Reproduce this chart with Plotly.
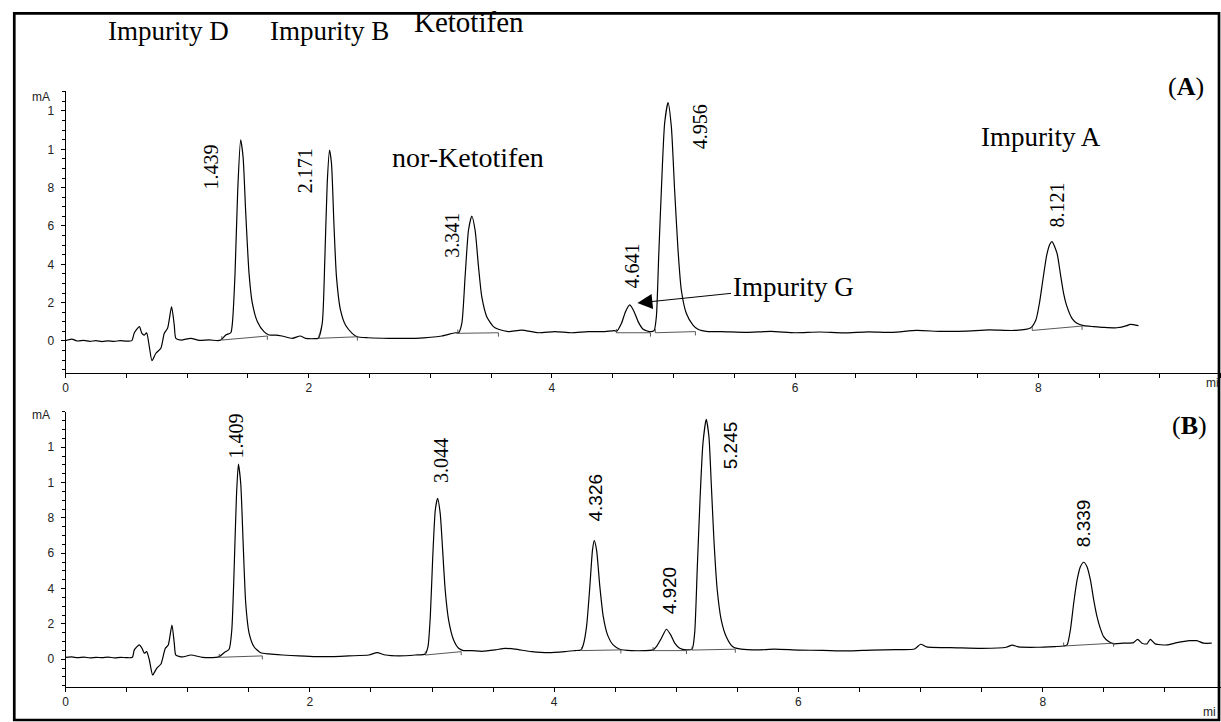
import plotly.graph_objects as go

# ---------------- data ----------------
tA = [0.00, 0.05, 0.10, 0.15, 0.20, 0.25, 0.30, 0.35, 0.40, 0.45, 0.50, 0.545, 0.566, 0.607, 0.628, 0.648, 0.667,
      0.689, 0.711, 0.743, 0.784, 0.812, 0.839, 0.872, 0.894, 0.907, 0.95, 1.03, 1.10, 1.18, 1.25, 1.277, 1.318,
      1.359, 1.372, 1.394, 1.416, 1.440, 1.460, 1.482, 1.509, 1.536, 1.578, 1.632, 1.673, 1.728, 1.78, 1.865, 1.93,
      1.974, 2.05, 2.078, 2.111, 2.133, 2.152, 2.171, 2.187, 2.207, 2.228, 2.261, 2.302, 2.357, 2.398, 2.49, 2.66,
      2.88, 3.095, 3.204, 3.232, 3.259, 3.286, 3.314, 3.341, 3.368, 3.396, 3.423, 3.464, 3.519, 3.560, 3.642, 3.75,
      3.888, 4.025, 4.16, 4.298, 4.435, 4.517, 4.531, 4.572, 4.605, 4.640, 4.676, 4.709, 4.750, 4.804, 4.840, 4.859,
      4.878, 4.900, 4.927, 4.955, 4.982, 5.009, 5.037, 5.064, 5.105, 5.160, 5.201, 5.283, 5.39, 5.6, 5.8, 6.0, 6.2,
      6.4, 6.6, 6.8, 7.0, 7.2, 7.4, 7.6, 7.8, 7.935, 7.98, 8.01, 8.04, 8.07, 8.095, 8.113, 8.154, 8.181, 8.208,
      8.236, 8.277, 8.318, 8.372, 8.455, 8.536, 8.646, 8.728, 8.755, 8.824]
yA = [0.02, 0.10, 0.00, 0.03, -0.02, 0.02, -0.03, 0.01, -0.02, 0.02, -0.01, 0.02, 0.43, 0.75, 0.40, 0.31, 0.42,
      -0.30, -1.03, -0.64, -0.38, 0.40, 0.66, 1.79, 0.83, 0.14, 0.05, 0.14, 0.03, 0.06, 0.02, 0.05, 0.31,
      0.43, 0.92, 3.53, 7.88, 10.49, 9.60, 6.66, 3.53, 1.97, 1.01, 0.49, 0.31, 0.31, 0.26, 0.14, 0.26,
      0.14, 0.12, 0.14, 0.92, 4.40, 8.23, 9.96, 9.27, 6.14, 3.36, 1.62, 0.83, 0.40, 0.22, 0.17, 0.14,
      0.14, 0.26, 0.43, 0.43, 0.92, 3.36, 5.79, 6.52, 5.79, 3.88, 2.31, 1.27, 0.75, 0.61, 0.49, 0.57,
      0.43, 0.49, 0.43, 0.49, 0.49, 0.54, 0.49, 0.92, 1.53, 1.88, 1.53, 1.01, 0.61, 0.49, 0.54, 1.27,
      4.40, 7.88, 11.36, 12.43, 11.18, 7.88, 4.75, 2.66, 1.45, 0.83, 0.61, 0.49, 0.49, 0.45, 0.50, 0.43, 0.47,
      0.42, 0.48, 0.45, 0.55, 0.50, 0.52, 0.58, 0.55, 0.68, 1.10, 2.00, 3.30, 4.50, 5.05, 5.18, 4.57, 3.53, 2.49,
      1.79, 1.18, 0.92, 0.80, 0.75, 0.71, 0.69, 0.80, 0.87, 0.80]

tB = [0.00, 0.05, 0.10, 0.15, 0.20, 0.25, 0.30, 0.35, 0.40, 0.45, 0.50, 0.547, 0.563, 0.604, 0.626, 0.645, 0.664,
      0.686, 0.713, 0.746, 0.781, 0.817, 0.841, 0.871, 0.890, 0.903, 0.958, 1.026, 1.121, 1.230, 1.258, 1.298,
      1.339, 1.361, 1.380, 1.399, 1.415, 1.434, 1.454, 1.475, 1.503, 1.543, 1.597, 1.666, 1.775, 1.911, 2.047,
      2.183, 2.319, 2.483, 2.550, 2.618, 2.728, 2.863, 2.945, 2.967, 2.986, 3.005, 3.027, 3.046, 3.067, 3.087,
      3.108, 3.136, 3.177, 3.218, 3.258, 3.326, 3.408, 3.517, 3.598, 3.680, 3.816, 3.953, 4.088, 4.170, 4.219,
      4.238, 4.265, 4.292, 4.314, 4.328, 4.347, 4.374, 4.402, 4.437, 4.483, 4.537, 4.633, 4.742, 4.810, 4.837,
      4.878, 4.919, 4.954, 4.987, 5.028, 5.082, 5.129, 5.150, 5.172, 5.194, 5.218, 5.245, 5.267, 5.286, 5.308,
      5.335, 5.368, 5.409, 5.463, 5.531, 5.668, 5.803, 6.0, 6.2, 6.4, 6.6, 6.8, 6.95, 7.00, 7.05, 7.3, 7.5, 7.7,
      7.75, 7.8, 7.95, 8.10, 8.171, 8.199, 8.226, 8.253, 8.281, 8.308, 8.335, 8.362, 8.390, 8.417, 8.444, 8.471,
      8.498, 8.539, 8.580, 8.661, 8.743, 8.776, 8.812, 8.853, 8.880, 8.920, 9.016, 9.098, 9.206, 9.261, 9.315,
      9.383]
yB = [0.11, 0.13, 0.09, 0.12, 0.08, 0.11, 0.09, 0.12, 0.08, 0.11, 0.09, 0.11, 0.53, 0.81, 0.62, 0.34, 0.43,
      -0.04, -0.89, -0.51, -0.27, 0.62, 0.81, 1.94, 0.91, 0.24, 0.13, 0.24, 0.11, 0.11, 0.15, 0.37,
      0.57, 1.66, 5.05, 9.20, 11.04, 9.96, 6.56, 3.17, 1.47, 0.71, 0.37, 0.30, 0.24, 0.19, 0.15,
      0.15, 0.19, 0.24, 0.37, 0.24, 0.19, 0.24, 0.30, 0.71, 2.41, 5.62, 8.45, 9.11, 8.26, 6.19,
      3.92, 2.22, 1.09, 0.62, 0.49, 0.49, 0.45, 0.53, 0.62, 0.57, 0.43, 0.37, 0.43, 0.49, 0.53,
      0.81, 1.85, 4.11, 6.19, 6.71, 6.19, 4.11, 2.41, 1.38, 0.81, 0.57, 0.49, 0.49, 0.53, 0.71,
      1.19, 1.70, 1.38, 0.91, 0.62, 0.53, 0.57, 1.47, 5.24, 9.02, 12.22, 13.58, 12.60, 9.96, 6.75,
      3.92, 2.22, 1.28, 0.71, 0.57, 0.53, 0.57, 0.52, 0.50, 0.47, 0.52, 0.55, 0.58, 0.85, 0.70, 0.65, 0.62, 0.68,
      0.80, 0.70, 0.68, 0.72, 0.75, 0.81, 1.66, 3.17, 4.49, 5.24, 5.49, 5.24, 4.49, 3.36, 2.41, 1.75,
      1.28, 1.00, 0.87, 0.91, 0.94, 1.13, 0.91, 0.87, 1.13, 0.87, 0.81, 0.94, 1.05, 1.05, 0.91,
      0.91]

# integration baselines: (t_start, y_start, t_end, y_end)
baseA = [(1.285, 0.05, 1.66, 0.26), (2.086, 0.14, 2.40, 0.22), (3.226, 0.40, 3.56, 0.43),
         (4.53, 0.43, 4.81, 0.43), (4.85, 0.43, 5.18, 0.49), (7.95, 0.55, 8.36, 0.78)]
baseB = [(1.258, 0.11, 1.611, 0.19), (2.945, 0.24, 3.239, 0.43), (4.225, 0.49, 4.546, 0.53),
         (4.81, 0.49, 5.083, 0.49), (5.129, 0.52, 5.483, 0.57), (8.171, 0.75, 8.58, 0.91)]

# retention-time labels: (text, t, y)
rtA = [("1.439", 1.192, 9.08), ("2.171", 1.971, 8.87), ("3.341", 3.177, 5.53),
       ("4.641", 4.662, 3.91), ("4.956", 5.22, 11.16), ("8.121", 8.157, 7.09)]
rtB = [("1.409", 1.399, 12.64, "serif"), ("3.044", 3.073, 11.28, "serif"), ("4.326", 4.339, 9.13, "sans"),
       ("4.920", 4.943, 3.92, "sans"), ("5.245", 5.45, 12.13, "sans"), ("8.339", 8.34, 7.72, "sans")]

compound_names = ["Impurity D", "Impurity B", "Ketotifen", "nor-Ketotifen", "Impurity A"]
compound_pos_px = [(166, 31), (327, 31), (467, 22), (466, 157), (1041, 137)]
compound_sizes = [27, 27, 29, 28, 27]

y_tickvals = [0, 2, 4, 6, 8, 10, 12]
y_ticktext = ["0", "2", "4", "6", "8", "1", "1"]
x_tickvals = [0, 2, 4, 6, 8]
x_ticktext = ["0", "2", "4", "6", "8"]

# ---------------- layout helpers ----------------
W, H = 1221, 722
def fx(p):                   # reference pixel -> paper x
    return p / W
def fy(p):                   # reference pixel -> paper y
    return 1 - p / H

SERIF = "Liberation Serif, Times New Roman, serif"
SANS = "Liberation Sans, Arial, sans-serif"

fig = go.Figure()

fig.add_trace(go.Scatter(x=tA, y=yA, mode="lines", line=dict(color="black", width=1.2, shape="spline", smoothing=0.6),
                         xaxis="x", yaxis="y", hoverinfo="skip"))
fig.add_trace(go.Scatter(x=tB, y=yB, mode="lines", line=dict(color="black", width=1.2, shape="spline", smoothing=0.6),
                         xaxis="x2", yaxis="y2", hoverinfo="skip"))

TICK = 0.2
for bases, xa, ya in [(baseA, "x", "y"), (baseB, "x2", "y2")]:
    bx, by = [], []
    for (t0, y0, t1, y1) in bases:
        bx += [t0, t0, t1, t1, None]
        by += [y0 + TICK, y0, y1, y1 - TICK, None]
    fig.add_trace(go.Scatter(x=bx, y=by, mode="lines", line=dict(color="#444", width=0.9),
                             xaxis=xa, yaxis=ya, hoverinfo="skip"))

axis_common = dict(showgrid=False, zeroline=False, showline=True, linecolor="black", linewidth=1,
                   ticks="outside", tickcolor="black", ticklen=4, tickwidth=1,
                   tickfont=dict(family=SANS, size=12, color="#222"))

fig.update_layout(
    width=W, height=H, autosize=False, margin=dict(l=0, r=0, t=0, b=0),
    paper_bgcolor="white", plot_bgcolor="white", showlegend=False,
    xaxis=dict(domain=[fx(62.7), fx(1220.7)], range=[0, 9.5], anchor="y", tickvals=x_tickvals, ticktext=x_ticktext,
               minor=dict(dtick=0.5, tick0=0, ticklen=4, tickcolor="black", ticks="outside"), **axis_common),
    yaxis=dict(domain=[fy(372.7), fy(90.7)], range=[-1.654, 13.057], anchor="x", tickvals=y_tickvals, ticktext=y_ticktext,
               ticklabelstandoff=4,
               minor=dict(dtick=0.5, tick0=0, ticklen=3, tickcolor="black", ticks="outside"), **axis_common),
    xaxis2=dict(domain=[fx(62.7), 1.0], range=[0, 9.459], anchor="y2", tickvals=x_tickvals, ticktext=x_ticktext,
                minor=dict(dtick=0.5, tick0=0, ticklen=4, tickcolor="black", ticks="outside"), **axis_common),
    yaxis2=dict(domain=[fy(686.7), fy(411.7)], range=[-1.553, 14.012], anchor="x2", tickvals=y_tickvals, ticktext=y_ticktext,
                ticklabelstandoff=4,
                minor=dict(dtick=0.5, tick0=0, ticklen=3, tickcolor="black", ticks="outside"), **axis_common),
)

# outer frame
fig.add_shape(type="rect", xref="paper", yref="paper", x0=fx(11.3), x1=fx(1219), y0=fy(720), y1=fy(13.3),
              line=dict(color="black", width=2.7), fillcolor="rgba(0,0,0,0)", layer="above")

C = dict(xanchor="center", yanchor="middle")
ann = []
for name, (px_, py_), fs in zip(compound_names, compound_pos_px, compound_sizes):
    ann.append(dict(text=name, x=fx(px_), y=fy(py_), xref="paper", yref="paper", showarrow=False,
                    font=dict(family=SERIF, size=fs, color="black"), **C))
# Impurity G with arrow
ann.append(dict(text="Impurity G", x=4.703, y=1.98, xref="x", yref="y", ax=5.983, ay=2.82, axref="x", ayref="y",
                showarrow=True, arrowhead=2, arrowsize=3, arrowwidth=1, arrowcolor="black",
                font=dict(family=SERIF, size=27, color="black"), **C))
# panel letters
ann.append(dict(text="(<b>A</b>)", x=fx(1186), y=fy(87), xref="paper", yref="paper", showarrow=False,
                font=dict(family=SERIF, size=26, color="black"), **C))
ann.append(dict(text="(<b>B</b>)", x=fx(1189), y=fy(425), xref="paper", yref="paper", showarrow=False,
                font=dict(family=SERIF, size=26, color="black"), **C))
# retention times
for txt, t, y in rtA:
    ann.append(dict(text=txt, x=t, y=y, xref="x", yref="y", showarrow=False, textangle=-90,
                    font=dict(family=SERIF, size=20, color="black"), **C))
for txt, t, y, fam in rtB:
    ann.append(dict(text=txt, x=t, y=y, xref="x2", yref="y2", showarrow=False, textangle=-90,
                    font=dict(family=SERIF if fam == "serif" else SANS, size=20 if fam == "serif" else 19,
                              color="black"), **C))
# unit labels
for (px_, py_, txt) in [(38, 97.5, "mA"), (38, 415, "mA"), (1212, 383, "mi"), (1209, 712, "mi")]:
    ann.append(dict(text=txt, x=fx(px_), y=fy(py_), xref="paper", yref="paper", showarrow=False,
                    font=dict(family=SANS, size=12, color="#222"), **C))

fig.update_layout(annotations=ann)
fig.write_html("out.html", config={"displayModeBar": False, "staticPlot": True},
               post_script="document.body.style.margin='0';document.body.style.overflow='hidden';")
